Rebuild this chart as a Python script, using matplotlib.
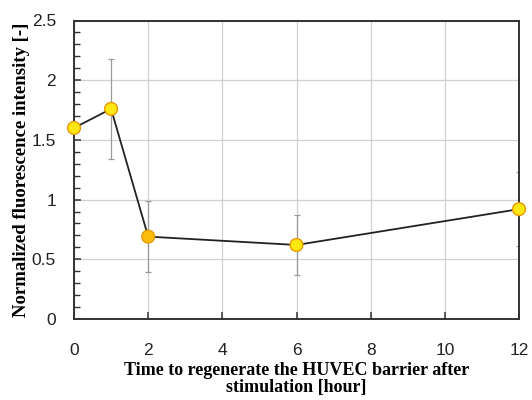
import numpy as np
import matplotlib.pyplot as plt
from matplotlib.ticker import MultipleLocator

# data
time_h = [0, 1, 2, 6, 12]
intensity = [1.60, 1.76, 0.69, 0.62, 0.92]
err = [0.0, 0.42, 0.30, 0.25, 0.31]
yticks = [0, 0.5, 1, 1.5, 2, 2.5]
yticklabels = ['0', '0.5', '1', '1.5', '2', '2.5']

# marker fills (the 2 h point looks more orange in the original)
face_colors = ['#ffe812', '#ffe812', '#fbbc0a', '#ffe812', '#ffe812']

fig = plt.figure(figsize=(5.32, 4.0), dpi=100)
ax = fig.add_axes([74 / 532, 1 - 319 / 400, 445 / 532, 298.5 / 400])

ax.grid(True, color='#d0d0d0', linewidth=0.9, zorder=0)
ax.set_axisbelow(True)

ax.errorbar(time_h, intensity, yerr=err, fmt='none', ecolor='#9a9a9a',
            elinewidth=0.9, capsize=2, capthick=0.9, zorder=2)
ax.plot(time_h, intensity, color='#222222', linewidth=1.3, zorder=3)
ax.scatter(time_h, intensity, s=9.2 ** 2, c=face_colors, edgecolors='#e89a00',
           linewidths=1.0, zorder=4, clip_on=False)

ax.set_xlim(0, 12)
ax.set_ylim(0, 2.5)
ax.xaxis.set_major_locator(MultipleLocator(2))
ax.yaxis.set_minor_locator(MultipleLocator(0.1))
ax.set_yticks(yticks)
ax.set_yticklabels(yticklabels)

ax.tick_params(axis='both', which='major', direction='in', length=5, width=1.1,
               color='#333333', labelsize=12.5)
ax.tick_params(axis='x', which='major', pad=17)
ax.tick_params(axis='y', which='major', pad=13)
ax.tick_params(axis='y', which='minor', direction='in', length=4, width=1.0,
               color='#333333')
for lab in ax.get_xticklabels() + ax.get_yticklabels():
    lab.set_fontfamily('Liberation Sans')
    lab.set_color('#222222')

for s in ax.spines.values():
    s.set_linewidth(1.4)
    s.set_color('#333333')

ax.set_xlabel('Time to regenerate the HUVEC barrier after\nstimulation [hour]',
              fontfamily='Liberation Serif', fontweight='bold', fontsize=13,
              labelpad=3, linespacing=1.05)
ax.set_ylabel('Normalized fluorescence intensity [-]',
              fontfamily='Liberation Serif', fontweight='bold', fontsize=13.5)
ax.yaxis.set_label_coords(-0.098, 0.5)

fig.savefig('out.png', dpi=100)
